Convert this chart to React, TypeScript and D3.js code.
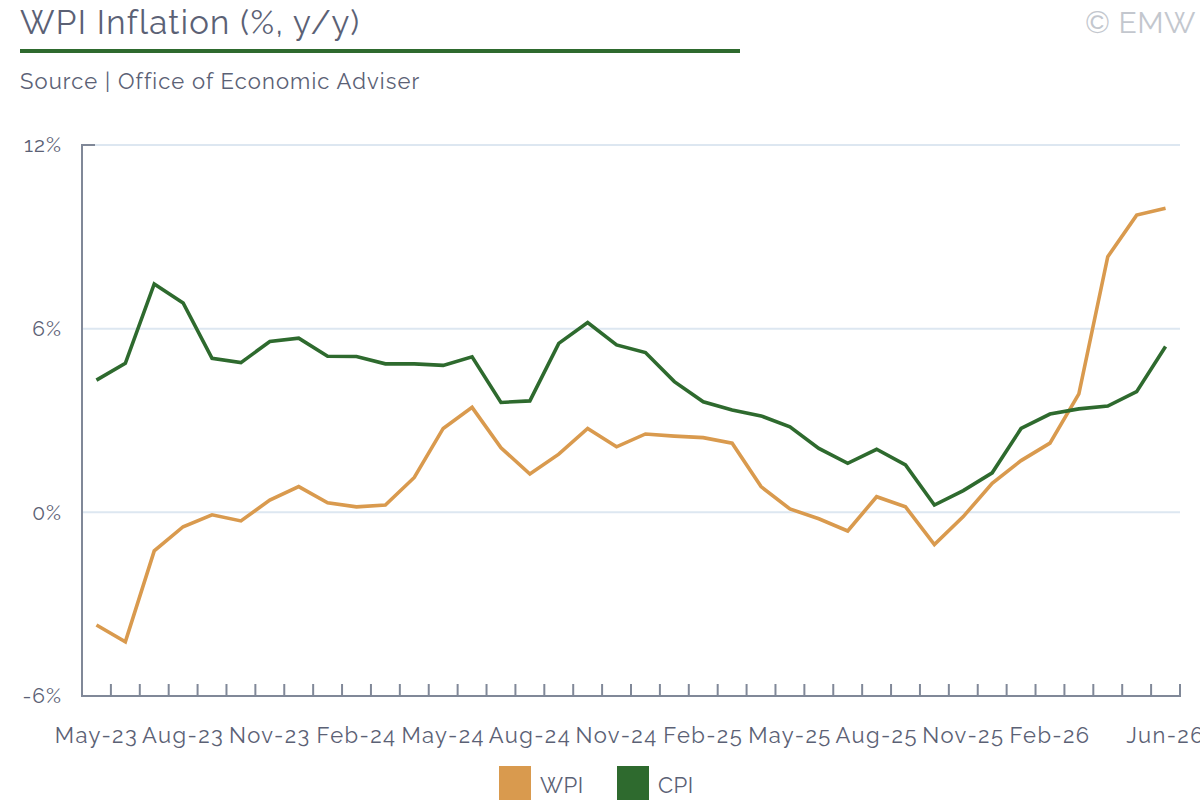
import React from "react";
import * as d3 from "d3";

const months = [
  "May-23","Jun-23","Jul-23","Aug-23","Sep-23","Oct-23","Nov-23","Dec-23",
  "Jan-24","Feb-24","Mar-24","Apr-24","May-24","Jun-24","Jul-24","Aug-24",
  "Sep-24","Oct-24","Nov-24","Dec-24","Jan-25","Feb-25","Mar-25","Apr-25",
  "May-25","Jun-25","Jul-25","Aug-25","Sep-25","Oct-25","Nov-25","Dec-25",
  "Jan-26","Feb-26","Mar-26","Apr-26","May-26","Jun-26",
];

const wpi = [
  -3.68, -4.23, -1.26, -0.47, -0.08, -0.28, 0.4, 0.84, 0.31, 0.18,
  0.24, 1.14, 2.74, 3.43, 2.11, 1.25, 1.9, 2.74, 2.14, 2.56,
  2.49, 2.44, 2.26, 0.84, 0.11, -0.21, -0.61, 0.51, 0.18, -1.05,
  -0.14, 0.95, 1.69, 2.26, 3.87, 8.35, 9.71, 9.93,
];

const cpi = [
  4.32, 4.87, 7.46, 6.84, 5.03, 4.89, 5.58, 5.69, 5.1, 5.09,
  4.85, 4.85, 4.8, 5.08, 3.59, 3.64, 5.52, 6.2, 5.47, 5.22,
  4.27, 3.61, 3.34, 3.15, 2.79, 2.09, 1.6, 2.06, 1.55, 0.24,
  0.71, 1.29, 2.74, 3.21, 3.38, 3.47, 3.94, 5.42,
];

const tickLabels = [
  "May-23","Aug-23","Nov-23","Feb-24","May-24","Aug-24","Nov-24",
  "Feb-25","May-25","Aug-25","Nov-25","Feb-26","Jun-26",
];

const yTicks = [-6, 0, 6, 12];

const seriesNames = ["WPI", "CPI"];
const seriesColors = ["#d99a4e", "#2e6a2e"];

const FONT = "Raleway, Lato, 'Open Sans', sans-serif";
const TEXT = "#5b6175";
const AXIS = "#808898";

export default function App() {
  const W = 1200, H = 800;
  const left = 82, right = 1180, top = 145, bottom = 696;

  const x = d3.scaleBand<string>().domain(months).range([left, right]).padding(0);
  const y = d3.scaleLinear().domain([-6, 12]).range([bottom, top]);
  const cx = (m: string) => (x(m) as number) + x.bandwidth() / 2;

  const line = d3
    .line<number>()
    .x((_, i) => cx(months[i]))
    .y((d) => y(d));

  const series = [wpi, cpi];

  return (
    <svg
      width={W}
      height={H}
      style={{ position: "absolute", left: 0, top: 0, background: "#fff", overflow: "hidden" }}
      fontFamily={FONT}
    >
      {/* Title */}
      <text x={20} y={34} fontSize={33} fill={TEXT} letterSpacing={1.3}>
        WPI Inflation (%, y/y)
      </text>
      <rect x={20} y={49} width={720} height={4} fill="#2e6a2e" />
      <text x={20} y={89} fontSize={22} fill={TEXT} letterSpacing={1.1}>
        Source | Office of Economic Adviser
      </text>
      <text x={1196} y={33} fontSize={30} fill="#c3c7ce" textAnchor="end" letterSpacing={0.5}>
        © EMW
      </text>

      {/* Grid */}
      {yTicks.filter((t) => t !== -6).map((t) => (
        <line key={t} x1={left} x2={right} y1={y(t)} y2={y(t)} stroke="#dde7f1" strokeWidth={2} />
      ))}

      {/* Y axis */}
      <line x1={left} x2={left} y1={top - 1} y2={bottom} stroke={AXIS} strokeWidth={2} />
      <line x1={left - 1} x2={left + 13} y1={top} y2={top} stroke={AXIS} strokeWidth={2} />
      {yTicks.map((t) => (
        <text key={t} x={62} y={y(t)} dy="0.35em" fontSize={21} fill={TEXT} textAnchor="end" letterSpacing={1}>
          {t}%
        </text>
      ))}

      {/* X axis */}
      <line x1={left - 1} x2={right + 1} y1={bottom} y2={bottom} stroke={AXIS} strokeWidth={2} />
      {months.map((m) => {
        const xb = (x(m) as number) + x.bandwidth();
        return <line key={m} x1={xb} x2={xb} y1={bottom} y2={bottom - 12} stroke={AXIS} strokeWidth={2} />;
      })}
      {tickLabels.map((m) => (
        <text key={m} x={cx(m)} y={743} fontSize={22} fill={TEXT} textAnchor="middle" letterSpacing={1.4}>
          {m}
        </text>
      ))}

      {/* Lines */}
      {series.map((s, k) => (
        <path
          key={seriesNames[k]}
          d={line(s) || ""}
          fill="none"
          stroke={seriesColors[k]}
          strokeWidth={3.6}
          strokeLinejoin="miter"
        />
      ))}

      {/* Legend */}
      {seriesNames.map((n, k) => {
        const lx = k === 0 ? 499 : 617;
        return (
          <g key={n}>
            <rect x={lx} y={766} width={32} height={34} fill={seriesColors[k]} />
            <text x={lx + 41} y={793} fontSize={22} fill={TEXT} letterSpacing={0.5}>
              {n}
            </text>
          </g>
        );
      })}
    </svg>
  );
}
